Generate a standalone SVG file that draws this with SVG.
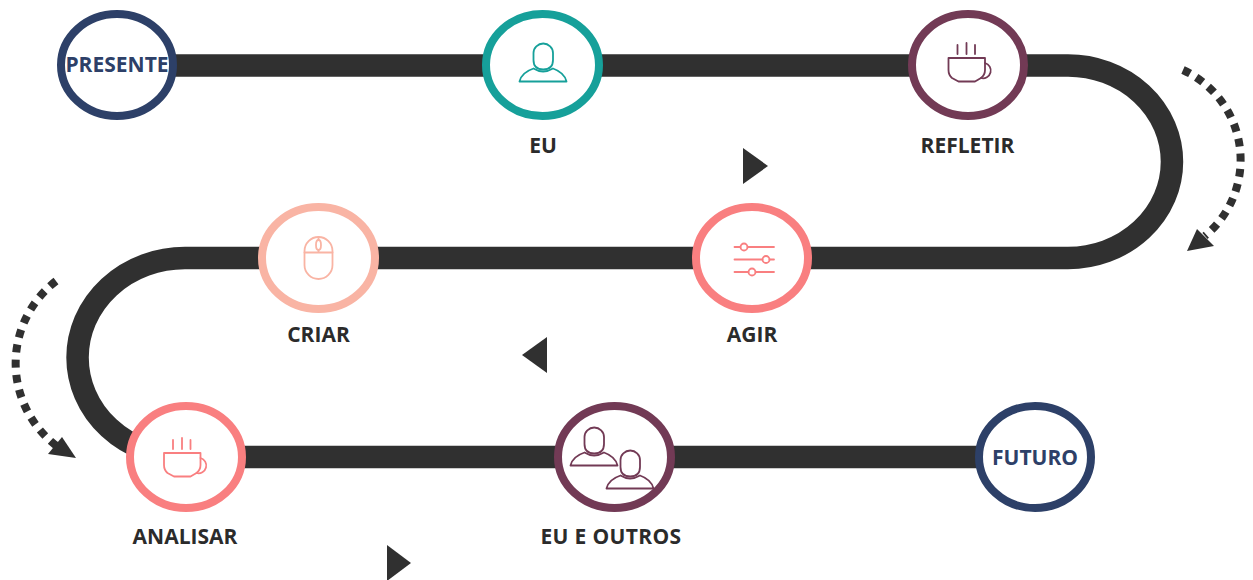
<svg xmlns="http://www.w3.org/2000/svg" xmlns:xlink="http://www.w3.org/1999/xlink" width="1253" height="580" viewBox="0 0 1253 580">
<style>
.ring{fill:#fff;stroke-width:8}
.label{font-family:"Open Sans","Liberation Sans",sans-serif;font-weight:700;font-size:21px;fill:#2b2b2b;text-anchor:middle}
.inner{font-family:"Open Sans","Liberation Sans",sans-serif;font-weight:700;font-size:21px;fill:#2d4068;text-anchor:middle}
.icon{fill:none;stroke-width:1.8;stroke-linejoin:round;stroke-linecap:round}
.track{fill:none;stroke:#303030;stroke-width:22.500}
.dots{fill:none;stroke:#303030;stroke-width:8;stroke-dasharray:8 7.2}
.head{fill:#303030}
.teal{stroke:#16a09a}.plum{stroke:#723a55}.salmon{stroke:#f97f80}.peach{stroke:#f9b4a4}.navy{stroke:#2d4068}
</style>
<defs>
<g id="mug">
<path d="M0.500 0H37V12Q37 17 33 20L27 23.500H10.500L4 20Q0.500 17 0.500 12Z"/>
<path d="M37 5A7.500 7.500 0 1 1 33 20"/>
<path d="M9.500-13V-4M18.500-15V-4M27-13V-4"/>
</g>
<g id="person">
<path d="M14.500 10A9.750 9.500 0 0 1 34 10V17Q34 26.500 24.250 26.500Q14.500 26.500 14.500 17Z"/>
<path d="M0.500 38.500H47.500C46 32 41 28 34 25.500Q24 31.500 14.500 25.500C7 28 2 32 0.500 38.500Z"/>
</g>
</defs>
<rect width="1253" height="580" fill="#fff"/>
<g id="connectors">
<path class="track" d="M117 65.500H1068A104 96.250 0 0 1 1068 258H185A107.500 99.500 0 0 0 185 457H1035"/>
<path class="dots" d="M1183 70A99 99 0 0 1 1205 236"/>
<polygon class="head" points="1187,251 1197,229 1214,246"/>
<path class="dots" d="M56 281A104 104 0 0 0 58 447"/>
<polygon class="head" points="76,458 62,437 48,454"/>
<polygon class="head" points="743,148 743,184 768,166"/>
<polygon class="head" points="547,337 547,373 522,355"/>
<polygon class="head" points="387,545 387,581 411,563"/>
</g>
<g id="node-presente">
<ellipse class="ring navy" cx="117" cy="65" rx="56" ry="51"/>
<text class="inner" x="117" y="72">PRESENTE</text>
</g>
<g id="node-eu">
<ellipse class="ring teal" cx="542.500" cy="65" rx="56.500" ry="51"/>
<use href="#person" x="519" y="43" class="icon teal"/>
<text class="label" x="543" y="153">EU</text>
</g>
<g id="node-refletir">
<ellipse class="ring plum" cx="968" cy="65" rx="56" ry="51"/>
<use href="#mug" x="948" y="58" class="icon plum"/>
<text class="label" x="967.500" y="153">REFLETIR</text>
</g>
<g id="node-criar">
<ellipse class="ring peach" cx="318.500" cy="258" rx="56.500" ry="51"/>
<g class="icon peach">
<rect x="304.500" y="237" width="28" height="42" rx="14" ry="14"/>
<path d="M304.500 252.500H332.500M318.500 237V240M318.500 250V252.500"/>
<ellipse cx="318.500" cy="245" rx="2.500" ry="5"/>
</g>
<text class="label" x="318.500" y="342">CRIAR</text>
</g>
<g id="node-agir">
<ellipse class="ring salmon" cx="752" cy="258" rx="56" ry="51"/>
<g class="icon salmon">
<path d="M734.500 247H740.500M747.500 247H774M734.500 259.500H762.500M769.500 259.500H774M734.500 272H748.500M755.500 272H774"/>
<circle cx="744" cy="247" r="3.500"/>
<circle cx="766" cy="259.500" r="3.500"/>
<circle cx="752" cy="272" r="3.500"/>
</g>
<text class="label" x="752" y="342">AGIR</text>
</g>
<g id="node-analisar">
<ellipse class="ring salmon" cx="186" cy="457" rx="56" ry="51"/>
<use href="#mug" x="163.500" y="453" class="icon salmon"/>
<text class="label" x="185" y="544">ANALISAR</text>
</g>
<g id="node-eu-e-outros">
<ellipse class="ring plum" cx="614.500" cy="457" rx="56.500" ry="51"/>
<use href="#person" x="570" y="427" class="icon plum"/>
<use href="#person" x="606" y="450" class="icon plum"/>
<text class="label" x="611" y="544" letter-spacing="0.350">EU E OUTROS</text>
</g>
<g id="node-futuro">
<ellipse class="ring navy" cx="1035" cy="457" rx="56" ry="51"/>
<text class="inner" x="1035" y="465">FUTURO</text>
</g>
</svg>
